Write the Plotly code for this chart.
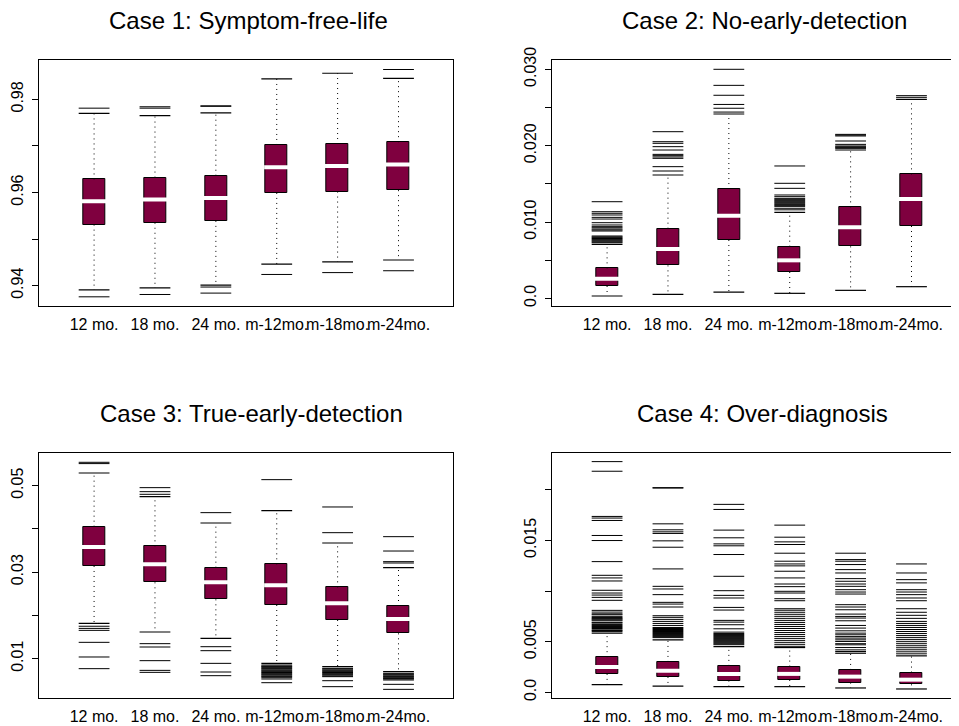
import plotly.graph_objects as go

# ---------------- data ----------------
categories = ["12 mo.", "18 mo.", "24 mo.", "m-12mo.", "m-18mo.", "m-24mo."]
titles = ["Case 1: Symptom-free-life", "Case 2: No-early-detection",
          "Case 3: True-early-detection", "Case 4: Over-diagnosis"]

# Case 1
p1_q1 = [0.9531, 0.9535, 0.9539, 0.9599, 0.9602, 0.9605]
p1_med = [0.9581, 0.9585, 0.9588, 0.9654, 0.9657, 0.9660]
p1_q3 = [0.9628, 0.9632, 0.9636, 0.9702, 0.9704, 0.9708]
p1_lo = [0.9391, 0.9395, 0.9401, 0.9446, 0.9451, 0.9455]
p1_hi = [0.9770, 0.9765, 0.9771, 0.9844, 0.9856, 0.9845]
p1_out = [
    [0.9781, 0.9376],
    [0.9784, 0.9781, 0.9381],
    [0.9786, 0.9785, 0.9397, 0.9384],
    [0.9424],
    [0.9428],
    [0.9864, 0.9432],
]

# Case 2
p2_q1 = [0.00162, 0.00432, 0.00764, 0.00345, 0.00681, 0.00948]
p2_med = [0.00258, 0.00646, 0.01083, 0.00498, 0.00930, 0.01301]
p2_q3 = [0.00393, 0.00913, 0.01432, 0.00677, 0.01192, 0.01624]
p2_lo = [0.00031, 0.00052, 0.00083, 0.00066, 0.00105, 0.00153]
p2_hi = [0.00707, 0.01616, 0.02415, 0.01127, 0.01943, 0.02607]
p2_out = [
    [0.00729, 0.00740, 0.00751, 0.00762, 0.00773, 0.00784, 0.00795, 0.00806,
     0.00817, 0.00882, 0.00895, 0.00908, 0.00925, 0.00939, 0.00961, 0.00991,
     0.01039, 0.01061, 0.01092, 0.01114, 0.01135, 0.01266],
    [0.01668, 0.01725, 0.01834, 0.01852, 0.01869, 0.01886, 0.01943, 0.01987,
     0.02031, 0.02052, 0.02183],
    [0.02440, 0.02490, 0.02540, 0.02660, 0.02790, 0.03000],
    [0.01160, 0.01180, 0.01205, 0.01218, 0.01231, 0.01245, 0.01258, 0.01271,
     0.01284, 0.01297, 0.01310, 0.01332, 0.01354, 0.01441, 0.01507, 0.01734],
    [0.01965, 0.01974, 0.01985, 0.01996, 0.02017, 0.02061, 0.02127, 0.02138,
     0.02148],
    [0.02633, 0.02655],
]

# Case 3
p3_q1 = [0.03143, 0.02765, 0.02372, 0.02241, 0.01894, 0.01586]
p3_med = [0.03582, 0.03181, 0.02765, 0.02696, 0.02279, 0.01917]
p3_q3 = [0.04052, 0.03597, 0.03104, 0.03181, 0.02649, 0.02218]
p3_lo = [0.01817, 0.01617, 0.01470, 0.00892, 0.00815, 0.00700]
p3_hi = [0.05293, 0.04746, 0.04137, 0.04422, 0.03674, 0.03104]
p3_out = [
    [0.05540, 0.05510, 0.01750, 0.01700, 0.01655, 0.01378, 0.01039, 0.00769],
    [0.04954, 0.04861, 0.04800, 0.01347, 0.01270, 0.00954, 0.00730, 0.00684],
    [0.04376, 0.01277, 0.01185, 0.00892, 0.00692, 0.00607],
    [0.05139, 0.00854, 0.00830, 0.00815, 0.00800, 0.00777, 0.00760, 0.00738,
     0.00720, 0.00700, 0.00680, 0.00661, 0.00640, 0.00622, 0.00600, 0.00584,
     0.00560, 0.00530, 0.00445],
    [0.04507, 0.03913, 0.00777, 0.00760, 0.00738, 0.00720, 0.00700, 0.00680,
     0.00661, 0.00640, 0.00622, 0.00600, 0.00584, 0.00491, 0.00353],
    [0.03821, 0.03489, 0.03243, 0.03212, 0.00661, 0.00640, 0.00622, 0.00600,
     0.00584, 0.00560, 0.00545, 0.00530, 0.00507, 0.00407, 0.00291],
]

# Case 4
p4_q1 = [0.00182, 0.00152, 0.00116, 0.00122, 0.00096, 0.00079]
p4_med = [0.00251, 0.00212, 0.00182, 0.00182, 0.00155, 0.00125]
p4_q3 = [0.00347, 0.00300, 0.00261, 0.00254, 0.00221, 0.00195]
p4_lo = [0.00076, 0.00061, 0.00056, 0.00056, 0.00043, 0.00033]
p4_hi = [0.00584, 0.00518, 0.00452, 0.00442, 0.00386, 0.00360]
p4_out = [
    [0.00601, 0.00610, 0.00617, 0.00630, 0.00640, 0.00650, 0.00660, 0.00670,
     0.00683, 0.00690, 0.00706, 0.00715, 0.00723, 0.00730, 0.00739, 0.00750,
     0.00766, 0.00775, 0.00792, 0.00809, 0.00908, 0.00937, 0.00960, 0.00980,
     0.01007, 0.01099, 0.01129, 0.01155, 0.01290, 0.01498, 0.01548, 0.01696,
     0.01720, 0.01736, 0.02182, 0.02277],
    [0.00540, 0.00550, 0.00560, 0.00570, 0.00580, 0.00590, 0.00600, 0.00610,
     0.00620, 0.00630, 0.00640, 0.00660, 0.00680, 0.00700, 0.00720, 0.00740,
     0.00756, 0.00842, 0.00871, 0.00888, 0.00964, 0.01020, 0.01046, 0.01218,
     0.01432, 0.01495, 0.01568, 0.01584, 0.01604, 0.01663, 0.02016, 0.02020],
    [0.00470, 0.00480, 0.00490, 0.00500, 0.00510, 0.00520, 0.00530, 0.00540,
     0.00550, 0.00560, 0.00570, 0.00580, 0.00594, 0.00627, 0.00667, 0.00693,
     0.00710, 0.00812, 0.00838, 0.00931, 0.00957, 0.01003, 0.01145, 0.01360,
     0.01446, 0.01465, 0.01525, 0.01601, 0.01805, 0.01855],
    [0.00450, 0.00470, 0.00490, 0.00510, 0.00530, 0.00550, 0.00570, 0.00590,
     0.00610, 0.00630, 0.00650, 0.00670, 0.00690, 0.00710, 0.00730, 0.00750,
     0.00770, 0.00790, 0.00810, 0.00825, 0.00904, 0.00924, 0.00980, 0.00997,
     0.01043, 0.01069, 0.01129, 0.01195, 0.01248, 0.01267, 0.01294, 0.01373,
     0.01459, 0.01485, 0.01531, 0.01650],
    [0.00403, 0.00419, 0.00442, 0.00469, 0.00480, 0.00502, 0.00518, 0.00535,
     0.00550, 0.00568, 0.00584, 0.00607, 0.00634, 0.00660, 0.00706, 0.00733,
     0.00749, 0.00772, 0.00815, 0.00842, 0.00865, 0.00970, 0.00990, 0.01013,
     0.01046, 0.01069, 0.01096, 0.01122, 0.01178, 0.01211, 0.01261, 0.01294,
     0.01310, 0.01373],
    [0.00380, 0.00400, 0.00420, 0.00440, 0.00460, 0.00480, 0.00500, 0.00520,
     0.00540, 0.00560, 0.00580, 0.00600, 0.00620, 0.00640, 0.00660, 0.00680,
     0.00700, 0.00730, 0.00760, 0.00790, 0.00825, 0.00904, 0.00931, 0.00964,
     0.00990, 0.01013, 0.01080, 0.01112, 0.01178, 0.01267],
]

# y-axis ticks (R style: some labels dropped)
p1_tickvals = [0.94, 0.95, 0.96, 0.97, 0.98]
p1_ticktext = ["0.94", "", "0.96", "", "0.98"]
p2_tickvals = [0.0, 0.005, 0.010, 0.015, 0.020, 0.025, 0.030]
p2_ticktext = ["0.0", "", "0.010", "", "0.020", "", "0.030"]
p3_tickvals = [0.01, 0.02, 0.03, 0.04, 0.05]
p3_ticktext = ["0.01", "", "0.03", "", "0.05"]
p4_tickvals = [0.0, 0.005, 0.010, 0.015, 0.020]
p4_ticktext = ["0.0", "0.005", "", "0.015", ""]

# ---------------- figure ----------------
# The page body has an 8px margin, so the figure is sized to fill the rest of
# the 959x726 window and all layout positions below are given in window px.
OFF = 8
W, H = 959 - OFF, 726 - OFF
BOX_COLOR = "#7f003f"
FONT = "Liberation Sans, Arial, sans-serif"
BOX_W = 0.36
BOX_PX = 22


def fx(px):
    return (px - OFF) / W


def fy(py):
    return 1 - (py - OFF) / H


panels = [
    dict(q1=p1_q1, med=p1_med, q3=p1_q3, lo=p1_lo, hi=p1_hi, out=p1_out,
         tv=p1_tickvals, tt=p1_ticktext, yr=[0.93563, 0.98844],
         px=(39.3, 453.3), py=(60, 306), xr=[0.1, 6.9], right=True,
         tx=248, ty=21),
    dict(q1=p2_q1, med=p2_med, q3=p2_q3, lo=p2_lo, hi=p2_hi, out=p2_out,
         tv=p2_tickvals, tt=p2_ticktext, yr=[-0.0010, 0.03122],
         px=(552.3, 959), py=(60, 306), xr=[0.1, 0.1 + (959 - 552.3) / 60.88],
         right=False, tx=764, ty=21),
    dict(q1=p3_q1, med=p3_med, q3=p3_q3, lo=p3_lo, hi=p3_hi, out=p3_out,
         tv=p3_tickvals, tt=p3_ticktext, yr=[0.00091, 0.05755],
         px=(39.3, 453.3), py=(453, 698), xr=[0.1, 6.9], right=True,
         tx=251, ty=413),
    dict(q1=p4_q1, med=p4_med, q3=p4_q3, lo=p4_lo, hi=p4_hi, out=p4_out,
         tv=p4_tickvals, tt=p4_ticktext, yr=[-0.00056, 0.02362],
         px=(552.3, 959), py=(453, 698), xr=[0.1, 0.1 + (959 - 552.3) / 60.88],
         right=False, tx=762, ty=413),
]

fig = go.Figure()
positions = list(range(1, len(categories) + 1))

for k, p in enumerate(panels):
    n = k + 1
    xa = "x" if n == 1 else f"x{n}"
    ya = "y" if n == 1 else f"y{n}"

    # whiskers (dotted)
    wx, wy = [], []
    for i, pos in enumerate(positions):
        wx += [pos, pos, None, pos, pos, None]
        wy += [p["q3"][i], p["hi"][i], None, p["q1"][i], p["lo"][i], None]
    fig.add_trace(go.Scatter(x=wx, y=wy, mode="lines", xaxis=xa, yaxis=ya,
                             line=dict(color="black", width=1, dash="1px,4px"),
                             hoverinfo="skip", showlegend=False))

    # staples
    sx = positions + positions
    sy = p["hi"] + p["lo"]
    fig.add_trace(go.Scatter(x=sx, y=sy, mode="markers", xaxis=xa, yaxis=ya,
                             marker=dict(symbol="line-ew", size=BOX_PX,
                                         line=dict(color="black", width=1.2)),
                             hoverinfo="skip", showlegend=False))

    # outliers drawn as short horizontal lines
    ox, oy = [], []
    for i, pos in enumerate(positions):
        for v in p["out"][i]:
            ox.append(pos)
            oy.append(v)
    fig.add_trace(go.Scatter(x=ox, y=oy, mode="markers", xaxis=xa, yaxis=ya,
                             marker=dict(symbol="line-ew", size=BOX_PX,
                                         line=dict(color="black", width=1)),
                             hoverinfo="skip", showlegend=False))

    # boxes
    heights = [q3 - q1 for q1, q3 in zip(p["q1"], p["q3"])]
    fig.add_trace(go.Bar(x=positions, y=heights, base=p["q1"], width=BOX_W,
                         xaxis=xa, yaxis=ya,
                         marker=dict(color=BOX_COLOR,
                                     line=dict(color="black", width=1)),
                         hoverinfo="skip", showlegend=False))

    # medians
    fig.add_trace(go.Scatter(x=positions, y=p["med"], mode="markers",
                             xaxis=xa, yaxis=ya,
                             marker=dict(symbol="line-ew", size=BOX_PX - 4,
                                         line=dict(color="white", width=4)),
                             hoverinfo="skip", showlegend=False))

    xkey = "xaxis" if n == 1 else f"xaxis{n}"
    ykey = "yaxis" if n == 1 else f"yaxis{n}"
    fig.update_layout(**{
        xkey: dict(domain=[fx(p["px"][0]), min(1.0, fx(p["px"][1]))],
                   anchor=ya,
                   range=p["xr"], tickvals=positions, ticktext=categories,
                   tickangle=0, ticks="", ticklabelstandoff=4,
                   automargin=False,
                   showgrid=False, zeroline=False, showline=True,
                   linecolor="black", linewidth=1, mirror=True,
                   tickfont=dict(family=FONT, size=16, color="black")),
        ykey: dict(domain=[fy(p["py"][1]), fy(p["py"][0])], anchor=xa,
                   range=p["yr"], tickvals=p["tv"], ticktext=p["tt"],
                   tickangle=-90, ticks="outside", ticklen=6, tickwidth=1,
                   tickcolor="black", ticklabelstandoff=3,
                   automargin=False,
                   showgrid=False, zeroline=False, showline=True,
                   linecolor="black", linewidth=1, mirror=p["right"],
                   tickfont=dict(family=FONT, size=16, color="black")),
    })

    fig.add_annotation(text=titles[k], xref="paper", yref="paper",
                       x=fx(p["tx"]), y=fy(p["ty"]), xanchor="center",
                       yanchor="middle", showarrow=False, borderpad=0,
                       font=dict(family=FONT, size=24, color="black"))

fig.update_layout(width=W, height=H, margin=dict(l=0, r=0, t=0, b=0),
                  paper_bgcolor="white", plot_bgcolor="white",
                  bargap=0, showlegend=False)

fig.write_html("out.html")
